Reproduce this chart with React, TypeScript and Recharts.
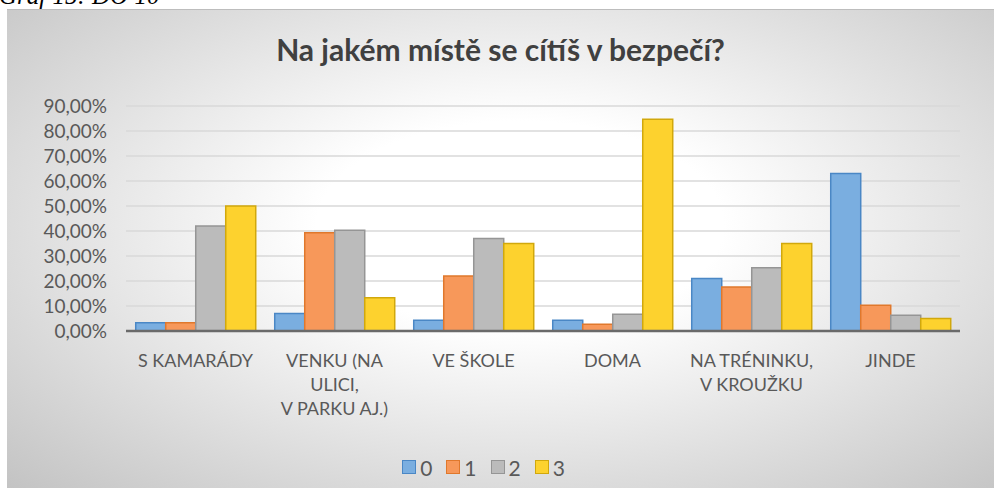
import React from 'react';
import { BarChart, Bar, XAxis, YAxis, CartesianGrid, Legend } from 'recharts';

const categories = [
  'S KAMARÁDY',
  'VENKU (NA\nULICI,\nV PARKU AJ.)',
  'VE ŠKOLE',
  'DOMA',
  'NA TRÉNINKU,\nV KROUŽKU',
  'JINDE',
];

const seriesNames = ['0', '1', '2', '3'];

const values0 = [3.3, 7.0, 4.3, 4.3, 21.0, 63.0];
const values1 = [3.3, 39.3, 22.0, 2.7, 17.6, 10.3];
const values2 = [42.0, 40.3, 37.0, 6.7, 25.3, 6.3];
const values3 = [50.0, 13.3, 35.0, 84.7, 35.0, 5.0];

const yTicks = [0, 10, 20, 30, 40, 50, 60, 70, 80, 90];

const fills = ['#7AAEE0', '#F7985A', '#BBBBBB', '#FDD22E'];
const strokes = ['#4A87C5', '#E0782C', '#959595', '#D1A80C'];

const data = categories.map((name, i) => ({
  name,
  s0: values0[i],
  s1: values1[i],
  s2: values2[i],
  s3: values3[i],
}));

const fmt = (v: number) => `${v.toFixed(2).replace('.', ',')}%`;

const font = 'Lato, "Open Sans", sans-serif';

const CategoryTick = (props: any) => {
  const { x, y, payload } = props;
  const lines = String(payload.value).split('\n');
  return (
    <text x={x} y={y} textAnchor="middle" fill="#595959" fontSize={18} fontFamily={font}>
      {lines.map((line, i) => (
        <tspan key={i} x={x} dy={i === 0 ? 36 : 24}>
          {line}
        </tspan>
      ))}
    </text>
  );
};

const LegendContent = () => (
  <div style={{ display: 'flex', justifyContent: 'center', alignItems: 'center', height: 44, fontFamily: font, fontSize: 21, color: '#595959' }}>
    {seriesNames.map((n, i) => (
      <div key={n} style={{ display: 'flex', alignItems: 'center', marginRight: i < seriesNames.length - 1 ? 14 : 0 }}>
        <span style={{ width: 12, height: 12, background: fills[i], border: `1.5px solid ${strokes[i]}`, display: 'inline-block', marginRight: 4 }} />
        <span>{n}</span>
      </div>
    ))}
  </div>
);

export default function App() {
  return (
    <div style={{ position: 'absolute', left: 0, top: 0, width: 994, height: 498, overflow: 'hidden', background: '#fff' }}>
      <div style={{ position: 'absolute', left: -1, top: -18, fontFamily: '"Liberation Serif", serif', fontStyle: 'italic', fontSize: 25, color: '#000', whiteSpace: 'nowrap' }}>
        Graf 15: DO 10
      </div>
      <div
        style={{
          position: 'absolute',
          left: 7,
          top: 9,
          width: 987,
          height: 479,
          borderTop: '1px solid #BDBDBD',
          boxSizing: 'border-box',
          background: 'radial-gradient(ellipse farthest-corner at 52% 45%, #FFFFFF 0%, #FFFFFF 28%, #C3C3C3 100%)',
        }}
      >
        <div style={{ position: 'absolute', left: 0, width: 987, top: 21, textAlign: 'center', fontFamily: font, fontWeight: 700, fontSize: 30, color: '#404040' }}>
          Na jakém místě se cítíš v bezpečí?
        </div>
        <div style={{ position: 'absolute', left: 0, top: 0 }}>
          <BarChart
            width={987}
            height={479}
            data={data}
            margin={{ top: 96, right: 34, left: 0, bottom: 0 }}
            barCategoryGap="7%"
            barGap={0}
          >
            <CartesianGrid vertical={false} stroke="#D9D9D9" strokeWidth={1.5} />
            <XAxis
              dataKey="name"
              interval={0}
              height={114}
              tickSize={0}
              tickMargin={0}
              tick={<CategoryTick />}
              axisLine={{ stroke: '#6A6A6A', strokeWidth: 2.5 }}
            />
            <YAxis
              width={119}
              domain={[0, 90]}
              ticks={yTicks}
              interval={0}
              tickFormatter={fmt}
              axisLine={false}
              tickLine={false}
              tickSize={0}
              tickMargin={19}
              tick={{ fill: '#595959', fontSize: 19, fontFamily: font }}
            />
            <Legend verticalAlign="bottom" height={44} content={<LegendContent />} />
            {seriesNames.map((n, i) => (
              <Bar
                key={n}
                dataKey={`s${i}`}
                name={n}
                fill={fills[i]}
                stroke={strokes[i]}
                strokeWidth={1.5}
                isAnimationActive={false}
              />
            ))}
          </BarChart>
        </div>
      </div>
    </div>
  );
}
